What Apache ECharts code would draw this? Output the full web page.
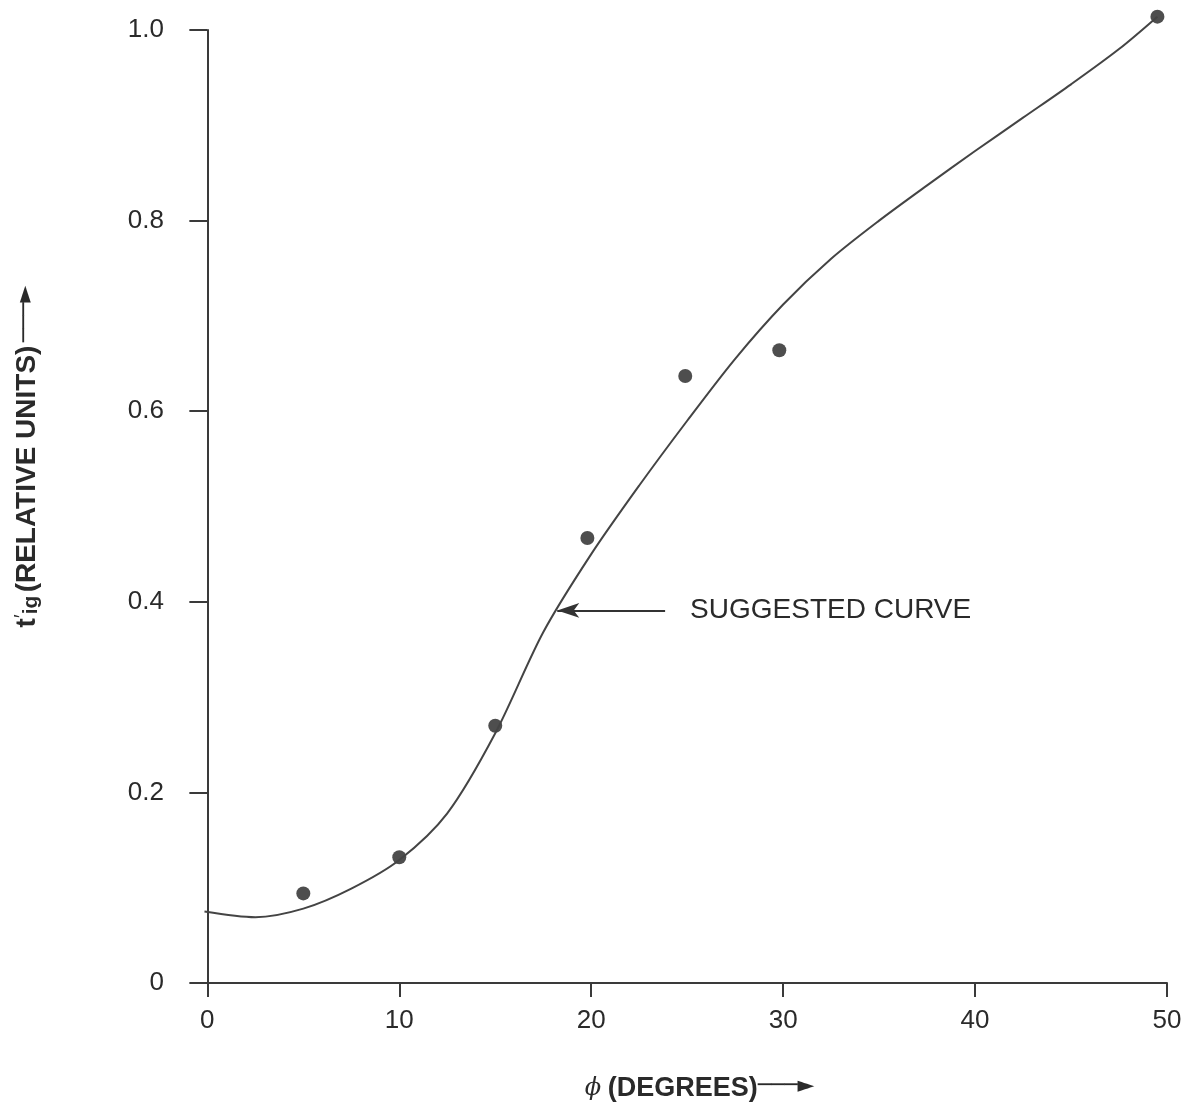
<!DOCTYPE html>
<html>
<head>
<meta charset="utf-8">
<style>
html,body{margin:0;padding:0;background:#fff;}
#chart{width:1191px;height:1111px;}
</style>
<script src="https://cdn.jsdelivr.net/npm/echarts@6/dist/echarts.min.js"></script>
</head>
<body>
<div id="chart"></div>
<script>
// Measured data points (phi in degrees, t'ig relative units)
const pointX = [5, 10, 15, 19.8, 24.9, 29.8, 49.5];
const pointY = [0.094, 0.132, 0.270, 0.467, 0.637, 0.664, 1.014];

// Suggested curve
const curveX = [-0.15, 2.5, 5, 7.5, 10, 12.5, 15, 17.5, 20, 22.5, 25, 27.5, 30, 32.5, 35, 37.5, 40, 42.5, 45, 47.5, 49.5];
const curveY = [0.075, 0.069, 0.078, 0.099, 0.129, 0.178, 0.262, 0.368, 0.450, 0.522, 0.590, 0.655, 0.712, 0.760, 0.800, 0.837, 0.873, 0.908, 0.943, 0.980, 1.014];

const xTicks = [0, 10, 20, 30, 40, 50];

// annotation arrow (data coords)
const noteText = 'SUGGESTED CURVE';
const noteFrom = [23.85, 0.391];
const noteTo = [18.23, 0.391];

const axisColor = '#3a3a3a';
const textColor = '#2a2a2a';
const font = '"Liberation Sans", Arial, Helvetica, sans-serif';

const chart = echarts.init(document.getElementById('chart'));
chart.setOption({
  backgroundColor: '#ffffff',
  animation: false,
  grid: {left: 192, right: 24, top: 30, bottom: 128, containLabel: false, outerBoundsMode: 'none'},
  xAxis: {
    type: 'value',
    min: -0.8,
    max: 50,
    splitLine: {show: false},
    axisLine: {show: true, lineStyle: {color: axisColor, width: 2}},
    axisTick: {show: true, customValues: xTicks, length: 14, lineStyle: {color: axisColor, width: 2}},
    axisLabel: {customValues: xTicks, margin: 25, fontSize: 26, color: textColor, fontFamily: font},
    name: '{phi|ϕ}  {t|(DEGREES)}{arr|───►}',
    nameLocation: 'middle',
    nameGap: 92,
    nameTextStyle: {
      padding: [0, 0, 0, 40],
      rich: {
        phi: {fontSize: 24, fontStyle: 'italic', color: textColor, fontFamily: 'DejaVu Serif, serif'},
        t: {fontSize: 27, color: textColor, fontFamily: font, fontWeight: 'bold'},
        arr: {fontSize: 22, color: textColor, fontFamily: 'DejaVu Sans', padding: [0, 0, 4, 0]}
      }
    }
  },
  yAxis: {
    type: 'value',
    min: 0,
    max: 1,
    interval: 0.2,
    splitLine: {show: false},
    axisLine: {show: true, onZero: true, lineStyle: {color: axisColor, width: 2}},
    axisTick: {show: true, length: 18, lineStyle: {color: axisColor, width: 2}},
    axisLabel: {
      margin: 28, fontSize: 26, color: textColor, fontFamily: font,
      formatter: v => (v === 0 ? '0' : v.toFixed(1))
    },
    name: '{t|t}{p|′}{s|ig} {u|(RELATIVE UNITS)} {arr|───►}',
    nameLocation: 'middle',
    nameRotate: 90,
    nameGap: 150,
    nameTextStyle: {
      padding: [0, 0, 0, 100],
      rich: {
        t: {fontSize: 28, color: textColor, fontFamily: font, fontWeight: 'bold'},
        p: {fontSize: 20, color: textColor, fontFamily: font, verticalAlign: 'top', padding: [0, 0, 10, 0]},
        s: {fontSize: 21, color: textColor, fontFamily: font, fontWeight: 'bold', verticalAlign: 'bottom', padding: [8, 0, 0, 0]},
        u: {fontSize: 28, color: textColor, fontFamily: font, fontWeight: 'bold'},
        arr: {fontSize: 22, color: textColor, fontFamily: 'DejaVu Sans', padding: [0, 0, 4, 0]}
      }
    }
  },
  series: [
    {
      type: 'line',
      data: curveX.map((x, i) => [x, curveY[i]]),
      smooth: 0.3,
      showSymbol: false,
      symbol: 'none',
      clip: false,
      lineStyle: {color: '#444', width: 2},
      markLine: {
        silent: true,
        symbol: ['none', 'arrow'],
        symbolSize: [11, 22],
        lineStyle: {color: '#333', width: 2, type: 'solid'},
        label: {
          show: true,
          position: 'start',
          distance: 25,
          formatter: noteText,
          fontSize: 28,
          color: textColor,
          fontFamily: font
        },
        data: [[{coord: noteFrom}, {coord: noteTo}]]
      }
    },
    {
      type: 'scatter',
      data: pointX.map((x, i) => [x, pointY[i]]),
      symbol: 'circle',
      symbolSize: 14,
      clip: false,
      itemStyle: {color: '#222'}
    }
  ]
});
</script>
</body>
</html>
